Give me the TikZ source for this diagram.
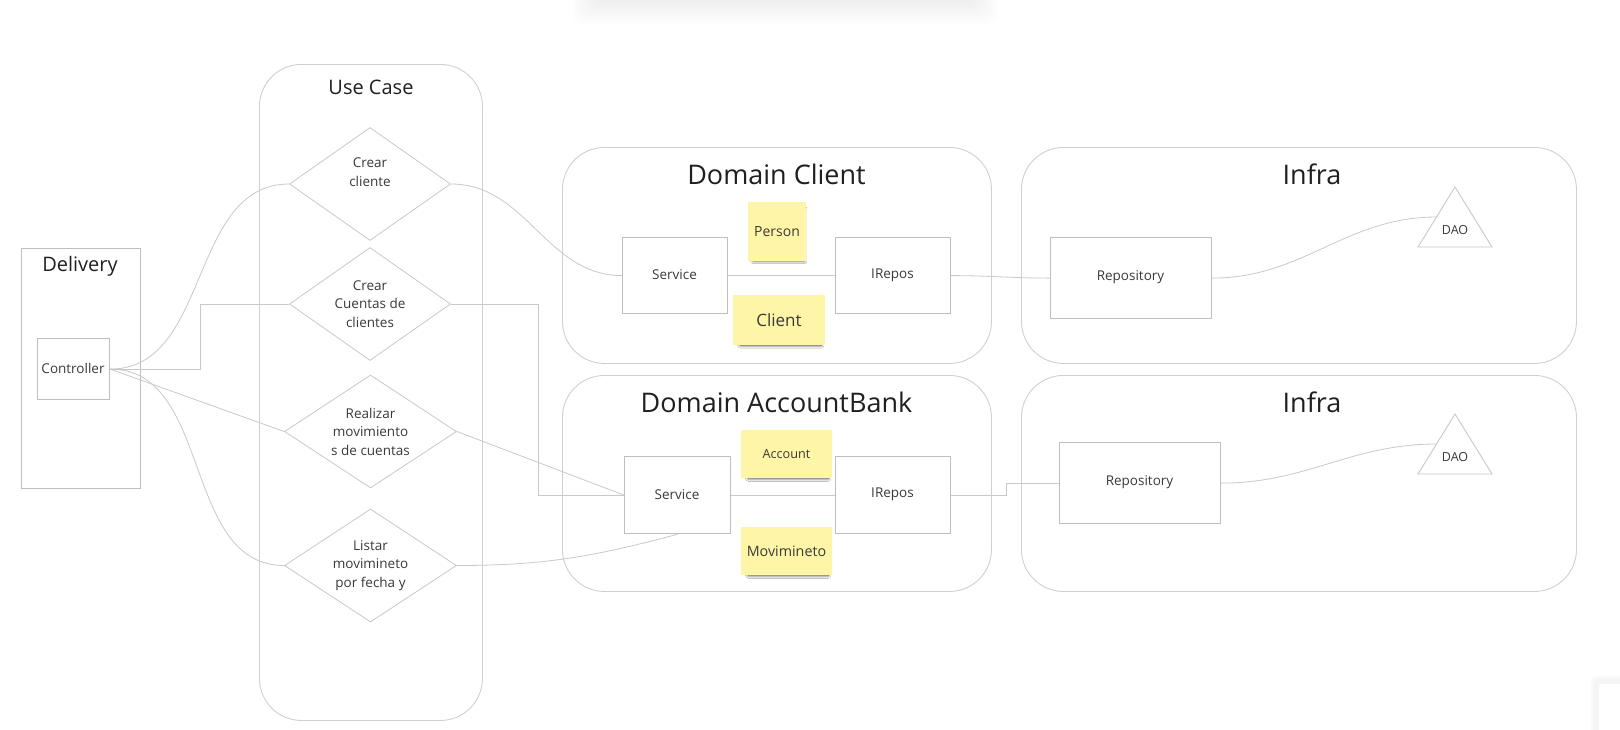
\documentclass[tikz,border=0pt]{standalone}
\usepackage{fontspec}
\setmainfont{Open Sans}
\usetikzlibrary{shapes.geometric,shadows.blur}
\definecolor{lineg}{HTML}{C9C9C9}
\definecolor{boxg}{HTML}{BEBEBE}
\definecolor{contg}{HTML}{D0D0D0}
\definecolor{sticky}{HTML}{FFF5A6}
\definecolor{txt}{HTML}{3A3A3A}
\definecolor{ttl}{HTML}{202020}
\begin{document}
\begin{tikzpicture}[x=1pt,y=-1pt,
  container/.style={draw=contg, line width=0.9pt, rounded corners=42pt, inner sep=0pt, anchor=north west},
  box/.style={draw=boxg, line width=1.2pt, fill=white, inner sep=0pt, anchor=north west, text=txt, font=\fontsize{13.5}{16}\selectfont},
  dia/.style={diamond, draw=lineg, line width=0.8pt, aspect=1.42, inner sep=0pt, align=center, text=txt, font=\fontsize{13.5}{18.5}\selectfont},
  note/.style={fill=sticky, inner sep=0pt, text=txt, blur shadow={shadow xshift=2pt, shadow yshift=-4pt, shadow scale=0.88, shadow blur radius=3pt, shadow blur steps=8, shadow opacity=75}},
  title/.style={text=ttl, inner sep=0pt},
  conn/.style={draw=lineg, line width=0.8pt}
]
\useasboundingbox (0,0) rectangle (1620,729);
\fill[white] (0,0) rectangle (1620,729);

% faint shadow at the top edge
\foreach \i in {0,...,15}{
  \fill[black, opacity=0.0055, rounded corners=10pt] (572+\i*1.5,-10) rectangle (998-\i*1.5,25-1.5*\i);
}
% faint box at the bottom right corner
\foreach \i in {0,...,4}{
  \fill[black, opacity=0.008, rounded corners=4pt] (1594-\i,679-\i) rectangle (1640,760);
}
\fill[white, rounded corners=3pt] (1599,684) rectangle (1640,760);

% containers
\node[container, minimum width=223pt, minimum height=656pt] (usecase) at (259,64) {};
\node[container, minimum width=429pt, minimum height=216pt] (dclient) at (562,147) {};
\node[container, minimum width=429pt, minimum height=216pt] (dacc) at (562,375) {};
\node[container, minimum width=555pt, minimum height=216pt] (infra1) at (1021,147) {};
\node[container, minimum width=555pt, minimum height=216pt] (infra2) at (1021,375) {};
\node[draw=boxg, line width=1.4pt, inner sep=0pt, anchor=north west, minimum width=119pt, minimum height=240pt] (delivery) at (21,248) {};

% titles
\node[title, font=\fontsize{20}{24}\selectfont] (tdel) at (80,266) {Delivery};
\node[title, font=\fontsize{20}{24}\selectfont] (tuse) at (371,87) {Use Case};
\node[title, font=\fontsize{27}{32}\selectfont] (tdc) at (776.5,174) {Domain Client};
\node[title, font=\fontsize{27}{32}\selectfont] (tda) at (776.5,402) {Domain AccountBank};
\node[title, font=\fontsize{27}{32}\selectfont] (ti1) at (1312,174) {Infra};
\node[title, font=\fontsize{27}{32}\selectfont] (ti2) at (1312,402) {Infra};

% delivery
\node[box, minimum width=72pt, minimum height=61pt] (ctrl) at (37,338) {};
\node[text=txt, font=\fontsize{13.5}{16}\selectfont, inner sep=0pt] (ctrlt) at (73,368.5) {Controller};

% use cases
\node[dia, minimum width=161pt, minimum height=113pt] (d1) at (370,184) {Crear\\cliente\\\strut};
\node[dia, minimum width=161pt, minimum height=113pt] (d2) at (370,304) {Crear\\Cuentas de\\clientes};
\node[dia, minimum width=172pt, minimum height=113pt] (d3) at (370.5,431.5) {Realizar\\movimiento\\s de cuentas};
\node[dia, minimum width=172pt, minimum height=113pt] (d4) at (370.5,565.5) {Listar\\movimineto\\por fecha y};

% domain client
\node[box, minimum width=105pt, minimum height=76pt] (svc1) at (622,237) {};
\node[text=txt, font=\fontsize{13.5}{16}\selectfont, inner sep=0pt] (svc1t) at (674.5,275) {Service};
\node[box, minimum width=115pt, minimum height=76pt] (irep1) at (835,237) {};
\node[text=txt, font=\fontsize{13.5}{16}\selectfont, inner sep=0pt] (irep1t) at (892.5,275) {IRepos};
\node[note, minimum width=58pt, minimum height=59pt, font=\fontsize{14}{16}\selectfont] (person) at (777,231.5) {Person};
\node[note, minimum width=92pt, minimum height=50pt, font=\fontsize{17}{20}\selectfont] (client) at (779,320) {Client};

% domain accountbank
\node[box, minimum width=106pt, minimum height=77pt] (svc2) at (624,456) {};
\node[text=txt, font=\fontsize{13.5}{16}\selectfont, inner sep=0pt] (svc2t) at (677,494.5) {Service};
\node[box, minimum width=115pt, minimum height=77pt] (irep2) at (835,456) {};
\node[text=txt, font=\fontsize{13.5}{16}\selectfont, inner sep=0pt] (irep2t) at (892.5,494.5) {IRepos};
\node[note, minimum width=91pt, minimum height=48pt, font=\fontsize{12.7}{15}\selectfont] (account) at (786.5,454) {Account};
\node[note, minimum width=91pt, minimum height=48pt, font=\fontsize{14.3}{17}\selectfont] (movim) at (786.5,551) {Movimineto};

% infra
\node[box, minimum width=161pt, minimum height=81pt] (repo1) at (1050,237) {};
\node[text=txt, font=\fontsize{13.5}{16}\selectfont, inner sep=0pt] (repo1t) at (1130.5,277.5) {Repository};
\node[box, minimum width=161pt, minimum height=81pt] (repo2) at (1059,442) {};
\node[text=txt, font=\fontsize{13.5}{16}\selectfont, inner sep=0pt] (repo2t) at (1139.5,482.5) {Repository};

\draw[draw=lineg, line width=0.9pt, line join=miter] (1455,187) -- (1492,247) -- (1418,247) -- cycle;
\node[text=txt, font=\fontsize{12.5}{15}\selectfont, inner sep=0pt] (dao1) at (1455,230.5) {DAO};
\coordinate (dao1l) at (1436.5,217);
\draw[draw=lineg, line width=0.9pt, line join=miter] (1455,414) -- (1492,474) -- (1418,474) -- cycle;
\node[text=txt, font=\fontsize{12.5}{15}\selectfont, inner sep=0pt] (dao2) at (1455,457.5) {DAO};
\coordinate (dao2l) at (1436.5,444);

% connectors
\draw[conn] (ctrl.east) to[out=0,in=180] (d1.west);
\draw[conn] (ctrl.east) -- ++(90,0) |- (d2.west);
\draw[conn] (ctrl.east) -- (d3.west);
\draw[conn] (ctrl.east) to[out=0,in=180] (d4.west);
\draw[conn] (d1.east) to[out=0,in=180] (svc1.west);
\draw[conn] (d2.east) -- ++(87,0) |- (svc2.west);
\draw[conn] (d3.east) -- (svc2.west);
\draw[conn] (d4.east) to[out=0,in=195] (svc2.south);
\draw[conn] (svc1.east) -- (irep1.west);
\draw[conn] (irep1.east) to[out=0,in=180] (repo1.west);
\draw[conn] (repo1.east) to[out=0,in=180] (dao1l);
\draw[conn] (svc2.east) -- (irep2.west);
\draw[conn] (irep2.east) -- ++(55,0) |- (repo2.west);
\draw[conn] (repo2.east) to[out=0,in=180] (dao2l);
\end{tikzpicture}
\end{document}
